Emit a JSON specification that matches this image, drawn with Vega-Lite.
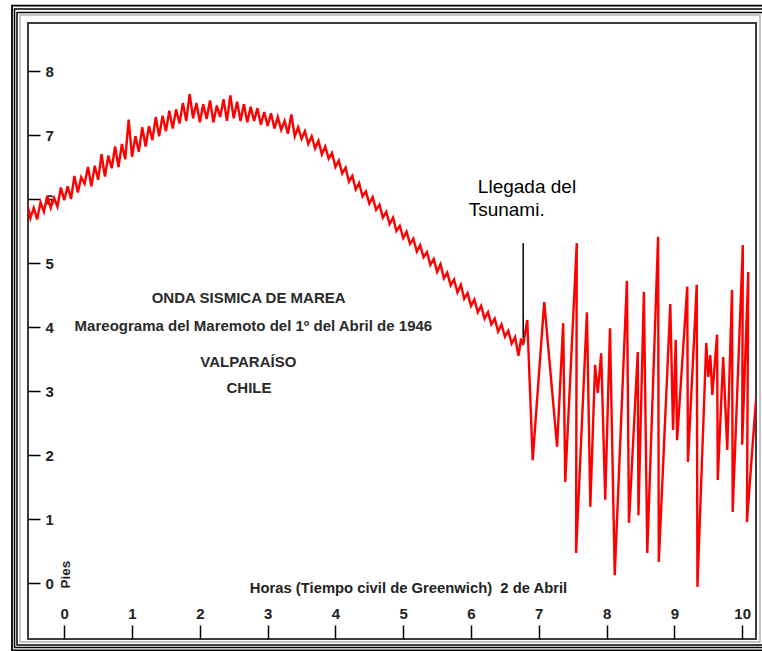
{
  "$schema": "https://vega.github.io/schema/vega-lite/v6.json",
  "width": 728,
  "height": 616,
  "autosize": {"type": "none"},
  "padding": {"left": 28, "top": 23, "right": 6, "bottom": 12},
  "background": "white",
  "config": {
    "view": {"stroke": "#3c3c3c", "strokeWidth": 2},
    "font": "Liberation Sans"
  },
  "datasets": {
    "marea": [
      {"hora": -0.55, "pies": 5.95}, {"hora": -0.50, "pies": 5.70}, {"hora": -0.45, "pies": 5.86}, {"hora": -0.40, "pies": 5.68},
      {"hora": -0.35, "pies": 5.95}, {"hora": -0.30, "pies": 5.80}, {"hora": -0.25, "pies": 6.05}, {"hora": -0.20, "pies": 5.86},
      {"hora": -0.15, "pies": 6.02}, {"hora": -0.10, "pies": 5.88}, {"hora": -0.05, "pies": 6.18}, {"hora": 0.00, "pies": 5.98},
      {"hora": 0.05, "pies": 6.20}, {"hora": 0.10, "pies": 6.00}, {"hora": 0.15, "pies": 6.36}, {"hora": 0.20, "pies": 6.10},
      {"hora": 0.25, "pies": 6.34}, {"hora": 0.30, "pies": 6.24}, {"hora": 0.35, "pies": 6.50}, {"hora": 0.40, "pies": 6.20},
      {"hora": 0.45, "pies": 6.52}, {"hora": 0.50, "pies": 6.30}, {"hora": 0.55, "pies": 6.70}, {"hora": 0.60, "pies": 6.35},
      {"hora": 0.65, "pies": 6.68}, {"hora": 0.70, "pies": 6.48}, {"hora": 0.75, "pies": 6.82}, {"hora": 0.80, "pies": 6.50},
      {"hora": 0.85, "pies": 6.86}, {"hora": 0.90, "pies": 6.62}, {"hora": 0.95, "pies": 7.24}, {"hora": 1.00, "pies": 6.66},
      {"hora": 1.05, "pies": 6.98}, {"hora": 1.10, "pies": 6.74}, {"hora": 1.15, "pies": 7.12}, {"hora": 1.20, "pies": 6.82},
      {"hora": 1.25, "pies": 7.14}, {"hora": 1.30, "pies": 6.92}, {"hora": 1.35, "pies": 7.28}, {"hora": 1.40, "pies": 6.98},
      {"hora": 1.45, "pies": 7.30}, {"hora": 1.50, "pies": 7.06}, {"hora": 1.55, "pies": 7.38}, {"hora": 1.60, "pies": 7.10},
      {"hora": 1.65, "pies": 7.40}, {"hora": 1.70, "pies": 7.18}, {"hora": 1.75, "pies": 7.50}, {"hora": 1.80, "pies": 7.22},
      {"hora": 1.85, "pies": 7.64}, {"hora": 1.90, "pies": 7.26}, {"hora": 1.95, "pies": 7.50}, {"hora": 2.00, "pies": 7.20},
      {"hora": 2.05, "pies": 7.48}, {"hora": 2.10, "pies": 7.25}, {"hora": 2.15, "pies": 7.54}, {"hora": 2.20, "pies": 7.20},
      {"hora": 2.25, "pies": 7.46}, {"hora": 2.30, "pies": 7.28}, {"hora": 2.35, "pies": 7.56}, {"hora": 2.40, "pies": 7.22},
      {"hora": 2.45, "pies": 7.62}, {"hora": 2.50, "pies": 7.26}, {"hora": 2.55, "pies": 7.52}, {"hora": 2.60, "pies": 7.22},
      {"hora": 2.65, "pies": 7.48}, {"hora": 2.70, "pies": 7.20}, {"hora": 2.75, "pies": 7.44}, {"hora": 2.80, "pies": 7.22},
      {"hora": 2.85, "pies": 7.42}, {"hora": 2.90, "pies": 7.16}, {"hora": 2.95, "pies": 7.36}, {"hora": 3.00, "pies": 7.14},
      {"hora": 3.05, "pies": 7.34}, {"hora": 3.10, "pies": 7.10}, {"hora": 3.15, "pies": 7.28}, {"hora": 3.20, "pies": 7.08},
      {"hora": 3.25, "pies": 7.22}, {"hora": 3.30, "pies": 7.02}, {"hora": 3.35, "pies": 7.32}, {"hora": 3.40, "pies": 6.98},
      {"hora": 3.45, "pies": 7.12}, {"hora": 3.50, "pies": 6.94}, {"hora": 3.55, "pies": 7.06}, {"hora": 3.60, "pies": 6.86},
      {"hora": 3.65, "pies": 6.98}, {"hora": 3.70, "pies": 6.79}, {"hora": 3.75, "pies": 6.91}, {"hora": 3.80, "pies": 6.70},
      {"hora": 3.85, "pies": 6.82}, {"hora": 3.90, "pies": 6.63}, {"hora": 3.95, "pies": 6.72}, {"hora": 4.00, "pies": 6.50},
      {"hora": 4.05, "pies": 6.60}, {"hora": 4.10, "pies": 6.40}, {"hora": 4.15, "pies": 6.49}, {"hora": 4.20, "pies": 6.27},
      {"hora": 4.25, "pies": 6.36}, {"hora": 4.30, "pies": 6.15}, {"hora": 4.35, "pies": 6.25}, {"hora": 4.40, "pies": 6.04},
      {"hora": 4.45, "pies": 6.12}, {"hora": 4.50, "pies": 5.93}, {"hora": 4.55, "pies": 6.03}, {"hora": 4.60, "pies": 5.83},
      {"hora": 4.65, "pies": 5.91}, {"hora": 4.70, "pies": 5.71}, {"hora": 4.75, "pies": 5.80}, {"hora": 4.80, "pies": 5.61},
      {"hora": 4.85, "pies": 5.71}, {"hora": 4.90, "pies": 5.50}, {"hora": 4.95, "pies": 5.58}, {"hora": 5.00, "pies": 5.39},
      {"hora": 5.05, "pies": 5.49}, {"hora": 5.10, "pies": 5.30}, {"hora": 5.15, "pies": 5.38}, {"hora": 5.20, "pies": 5.18},
      {"hora": 5.25, "pies": 5.28}, {"hora": 5.30, "pies": 5.09}, {"hora": 5.35, "pies": 5.17}, {"hora": 5.40, "pies": 4.97},
      {"hora": 5.45, "pies": 5.06}, {"hora": 5.50, "pies": 4.86}, {"hora": 5.55, "pies": 4.98}, {"hora": 5.60, "pies": 4.76},
      {"hora": 5.65, "pies": 4.85}, {"hora": 5.70, "pies": 4.65}, {"hora": 5.75, "pies": 4.74}, {"hora": 5.80, "pies": 4.54},
      {"hora": 5.85, "pies": 4.66}, {"hora": 5.90, "pies": 4.44}, {"hora": 5.95, "pies": 4.53}, {"hora": 6.00, "pies": 4.33},
      {"hora": 6.05, "pies": 4.43}, {"hora": 6.10, "pies": 4.23}, {"hora": 6.15, "pies": 4.33}, {"hora": 6.20, "pies": 4.13},
      {"hora": 6.25, "pies": 4.23}, {"hora": 6.30, "pies": 4.04}, {"hora": 6.35, "pies": 4.13}, {"hora": 6.40, "pies": 3.93},
      {"hora": 6.45, "pies": 4.04}, {"hora": 6.50, "pies": 3.85}, {"hora": 6.55, "pies": 3.94}, {"hora": 6.60, "pies": 3.74},
      {"hora": 6.65, "pies": 3.84}, {"hora": 6.70, "pies": 3.55}, {"hora": 6.74, "pies": 3.82}, {"hora": 6.77, "pies": 3.72},
      {"hora": 6.83, "pies": 4.11}, {"hora": 6.91, "pies": 1.92}, {"hora": 7.08, "pies": 4.39}, {"hora": 7.27, "pies": 2.13},
      {"hora": 7.36, "pies": 4.06}, {"hora": 7.39, "pies": 1.58}, {"hora": 7.56, "pies": 5.31}, {"hora": 7.55, "pies": 0.47},
      {"hora": 7.71, "pies": 4.23}, {"hora": 7.76, "pies": 1.19}, {"hora": 7.83, "pies": 3.41}, {"hora": 7.87, "pies": 2.97},
      {"hora": 7.92, "pies": 3.59}, {"hora": 7.98, "pies": 1.30}, {"hora": 8.05, "pies": 3.98}, {"hora": 8.12, "pies": 0.12},
      {"hora": 8.30, "pies": 4.72}, {"hora": 8.33, "pies": 0.94}, {"hora": 8.46, "pies": 3.61}, {"hora": 8.47, "pies": 1.06},
      {"hora": 8.55, "pies": 4.55}, {"hora": 8.60, "pies": 0.47}, {"hora": 8.76, "pies": 5.41}, {"hora": 8.77, "pies": 0.33},
      {"hora": 8.94, "pies": 4.36}, {"hora": 8.98, "pies": 2.39}, {"hora": 9.02, "pies": 3.80}, {"hora": 9.04, "pies": 2.23},
      {"hora": 9.19, "pies": 4.63}, {"hora": 9.20, "pies": 1.89}, {"hora": 9.33, "pies": 4.66}, {"hora": 9.34, "pies": -0.06},
      {"hora": 9.47, "pies": 3.75}, {"hora": 9.50, "pies": 3.22}, {"hora": 9.53, "pies": 3.56}, {"hora": 9.56, "pies": 2.94},
      {"hora": 9.63, "pies": 3.88}, {"hora": 9.64, "pies": 1.61}, {"hora": 9.72, "pies": 3.53}, {"hora": 9.78, "pies": 2.08},
      {"hora": 9.85, "pies": 4.58}, {"hora": 9.86, "pies": 1.11}, {"hora": 10.01, "pies": 5.28}, {"hora": 10.00, "pies": 2.16},
      {"hora": 10.09, "pies": 4.86}, {"hora": 10.07, "pies": 0.95}, {"hora": 10.19, "pies": 2.67}, {"hora": 10.30, "pies": 4.00}
    ],
    "llegada": [{"hora": 6.77, "desde": 3.83, "hasta": 5.31}],
    "rotulos": [
      {"texto": "ONDA SISMICA DE MAREA", "hora": 2.72, "pies": 4.45},
      {"texto": "Mareograma del Maremoto del 1º del Abril de 1946", "hora": 2.79, "pies": 4.02},
      {"texto": "VALPARAÍSO", "hora": 2.715, "pies": 3.45},
      {"texto": "CHILE", "hora": 2.725, "pies": 3.04}
    ],
    "nota": [
      {"texto": "Llegada del", "hora": 6.826, "pies": 6.19},
      {"texto": "Tsunami.", "hora": 6.526, "pies": 5.83}
    ]
  },
  "layer": [
    {
      "data": {"values": [{}]},
      "mark": {"type": "rect", "fill": null, "stroke": "#c4c4c4", "strokeWidth": 2, "clip": false},
      "encoding": {
        "x": {"datum": -0.653, "type": "quantitative", "scale": {"domain": [-0.5347, 10.204], "nice": false, "zero": false}},
        "x2": {"datum": 10.263},
        "y": {"datum": 8.875, "type": "quantitative", "scale": {"domain": [-0.875, 8.75], "nice": false, "zero": false}},
        "y2": {"datum": -0.922}
      }
    },
    {
      "data": {"values": [{}]},
      "mark": {"type": "rect", "fill": null, "stroke": "#000000", "strokeWidth": 1.8, "clip": false},
      "encoding": {
        "x": {"datum": -0.7707, "type": "quantitative"},
        "x2": {"datum": 10.485},
        "y": {"datum": 9.023, "type": "quantitative"},
        "y2": {"datum": -1.055}
      }
    },
    {
      "data": {"values": [{}]},
      "mark": {"type": "rect", "fill": null, "stroke": "#000000", "strokeWidth": 1.5, "clip": false},
      "encoding": {
        "x": {"datum": -0.7338, "type": "quantitative"},
        "x2": {"datum": 10.485},
        "y": {"datum": 8.969, "type": "quantitative"},
        "y2": {"datum": -1.008}
      }
    },
    {
      "data": {"values": [{}]},
      "mark": {"type": "rect", "fill": null, "stroke": "#000000", "strokeWidth": 1.5, "clip": false},
      "encoding": {
        "x": {"datum": -0.697, "type": "quantitative"},
        "x2": {"datum": 10.485},
        "y": {"datum": 8.914, "type": "quantitative"},
        "y2": {"datum": -0.969}
      }
    },
    {
      "data": {"name": "marea"},
      "mark": {"type": "line", "color": "#ff0000", "strokeWidth": 2.4, "clip": true},
      "encoding": {
        "x": {
          "field": "hora", "type": "quantitative",
          "scale": {"domain": [-0.5347, 10.204], "nice": false, "zero": false},
          "axis": {
            "orient": "bottom",
            "values": [0, 1, 2, 3, 4, 5, 6, 7, 8, 9, 10],
            "format": "d",
            "grid": false,
            "domain": false,
            "tickSize": -14,
            "tickWidth": 1.5,
            "tickColor": "#000000",
            "labelPadding": -4,
            "labelBaseline": "bottom",
            "labelFont": "Liberation Sans",
            "labelFontSize": 15,
            "labelFontWeight": "bold",
            "labelColor": "#222222",
            "labelFlush": false,
            "labelOverlap": false,
            "title": "Horas (Tiempo civil de Greenwich)\u00a0 2 de Abril",
            "titleFont": "Liberation Sans",
            "titleFontSize": 14.8,
            "titleFontWeight": "bold",
            "titleColor": "#222222",
            "titleX": 380,
            "titleY": -51,
            "titleAlign": "center",
            "titleBaseline": "middle"
          }
        },
        "y": {
          "field": "pies", "type": "quantitative",
          "scale": {"domain": [-0.875, 8.75], "nice": false, "zero": false},
          "axis": {
            "orient": "left",
            "values": [0, 1, 2, 3, 4, 5, 6, 7, 8],
            "format": "d",
            "grid": false,
            "domain": false,
            "tickSize": -12,
            "tickWidth": 1.5,
            "tickColor": "#000000",
            "labelPadding": -5,
            "labelAlign": "left",
            "labelBaseline": "middle",
            "labelFont": "Liberation Sans",
            "labelFontSize": 15,
            "labelFontWeight": "bold",
            "labelColor": "#222222",
            "labelFlush": false,
            "labelOverlap": false,
            "title": "Pies",
            "titleFont": "Liberation Sans",
            "titleFontSize": 13.5,
            "titleFontWeight": "bold",
            "titleColor": "#222222",
            "titleAngle": 270,
            "titleX": 37,
            "titleY": 551,
            "titleAlign": "center",
            "titleBaseline": "middle"
          }
        },
        "order": {"value": null}
      }
    },
    {
      "data": {"name": "llegada"},
      "mark": {"type": "rule", "color": "#000000", "strokeWidth": 1.5},
      "encoding": {
        "x": {"field": "hora", "type": "quantitative"},
        "y": {"field": "desde", "type": "quantitative"},
        "y2": {"field": "hasta"}
      }
    },
    {
      "data": {"name": "rotulos"},
      "mark": {"type": "text", "font": "Liberation Sans", "fontSize": 15, "fontWeight": "bold", "color": "#2a2a2a", "align": "center", "baseline": "middle"},
      "encoding": {
        "x": {"field": "hora", "type": "quantitative"},
        "y": {"field": "pies", "type": "quantitative"},
        "text": {"field": "texto"}
      }
    },
    {
      "data": {"name": "nota"},
      "mark": {"type": "text", "font": "Liberation Sans", "fontSize": 19, "color": "#000000", "align": "center", "baseline": "middle"},
      "encoding": {
        "x": {"field": "hora", "type": "quantitative"},
        "y": {"field": "pies", "type": "quantitative"},
        "text": {"field": "texto"}
      }
    }
  ]
}
